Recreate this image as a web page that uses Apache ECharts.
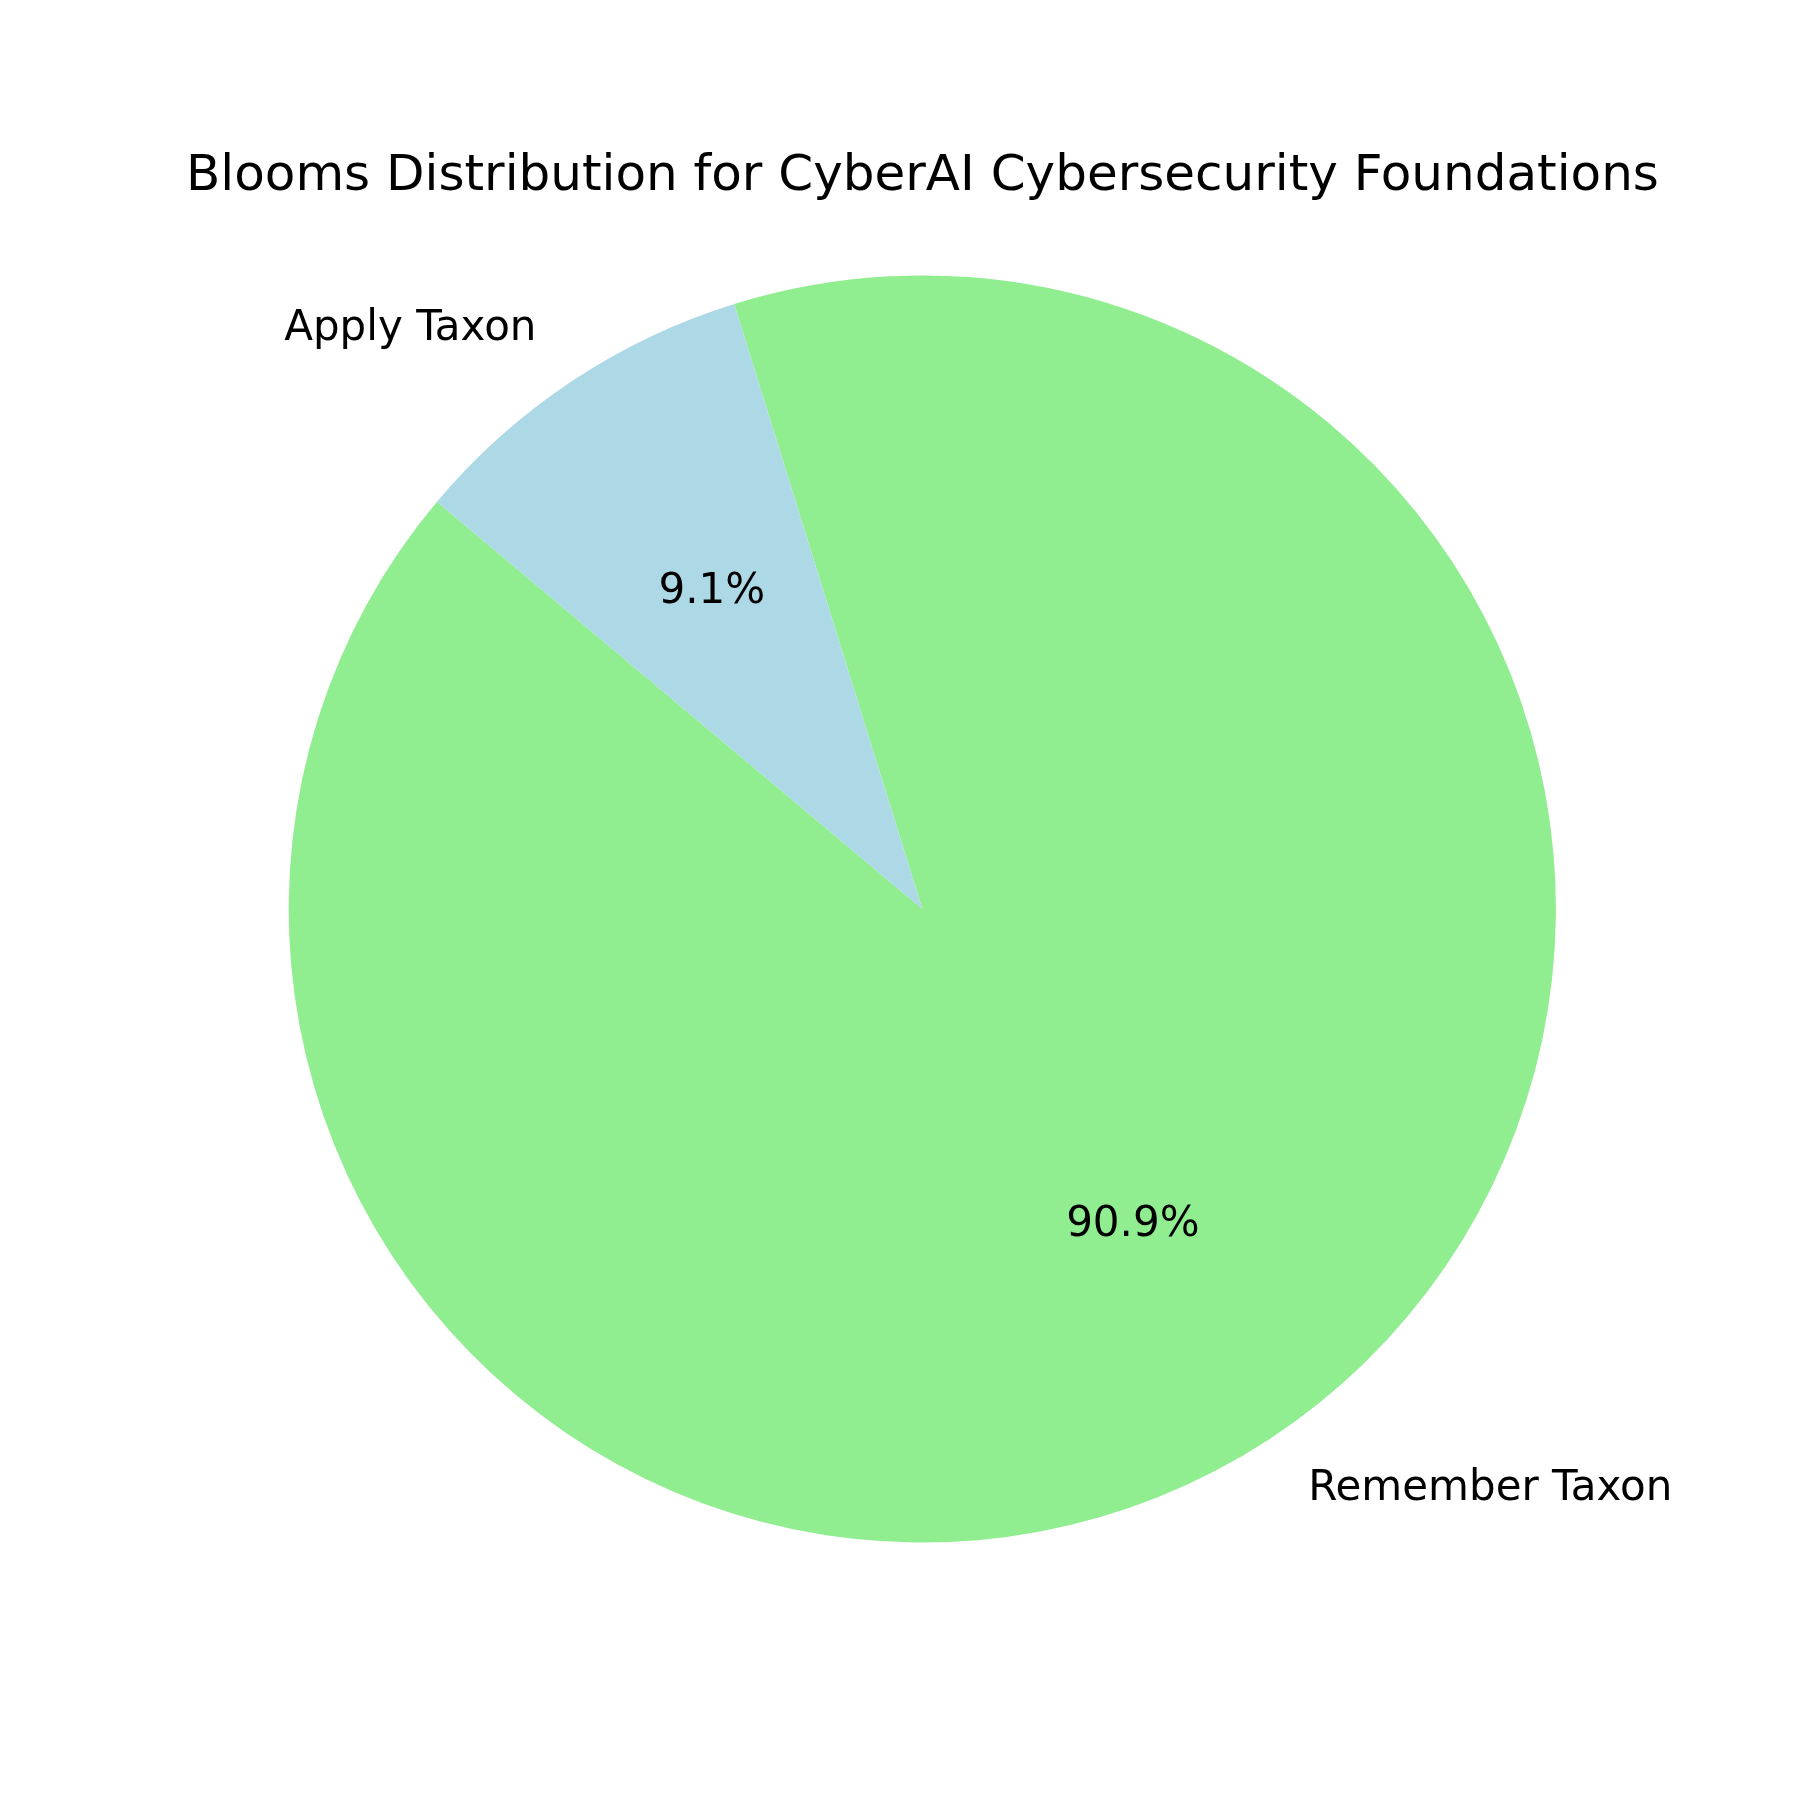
<!DOCTYPE html>
<html>
<head>
<meta charset="utf-8">
<script src="https://cdn.jsdelivr.net/npm/echarts@6/dist/echarts.min.js"></script>
<style>
html,body{margin:0;padding:0;background:#fff;}
#chart{width:1800px;height:1800px;}
</style>
</head>
<body>
<div id="chart"></div>
<script>
const titleText = 'Blooms Distribution for CyberAI Cybersecurity Foundations';
const categories = ['Remember Taxon', 'Apply Taxon'];
const values = [10, 1];
const colors = ['#90EE90', '#ADD8E6'];

const FONT = 'DejaVu Sans';
const chart = echarts.init(document.getElementById('chart'), null, {renderer: 'canvas'});

const sliceData = categories.map((c, i) => ({
  name: c, value: values[i], itemStyle: {color: colors[i]}
}));
const pctData = categories.map((c, i) => ({name: c, value: values[i]}));

const center = ['51.24%', '50.5%'];
const R = 70.4;

chart.setOption({
  animation: false,
  backgroundColor: '#ffffff',
  title: {
    text: titleText,
    left: 181,
    top: 147,
    padding: 5,
    textStyle: {fontFamily: FONT, fontSize: 50, fontWeight: 'normal', color: '#000'}
  },
  series: [
    {
      type: 'pie',
      center: center,
      radius: [0, R + '%'],
      startAngle: 140,
      clockwise: false,
      avoidLabelOverlap: false,
      silent: true,
      itemStyle: {borderWidth: 0},
      label: {
        show: true,
        position: 'outside',
        formatter: '{b}',
        fontFamily: FONT,
        fontSize: 42,
        color: '#000',
        distanceToLabelLine: 0
      },
      labelLine: {show: false, length: 63, length2: 0},
      emphasis: {disabled: true},
      data: sliceData
    },
    {
      type: 'pie',
      center: center,
      radius: ['13.4%', R + '%'],
      startAngle: 140,
      clockwise: false,
      avoidLabelOverlap: false,
      silent: true,
      percentPrecision: 1,
      itemStyle: {color: 'rgba(0,0,0,0)', borderWidth: 0},
      label: {
        show: true,
        position: 'inside',
        formatter: '{d}%',
        fontFamily: FONT,
        fontSize: 42,
        color: '#000'
      },
      labelLine: {show: false},
      emphasis: {disabled: true},
      data: pctData
    }
  ]
});
</script>
</body>
</html>
